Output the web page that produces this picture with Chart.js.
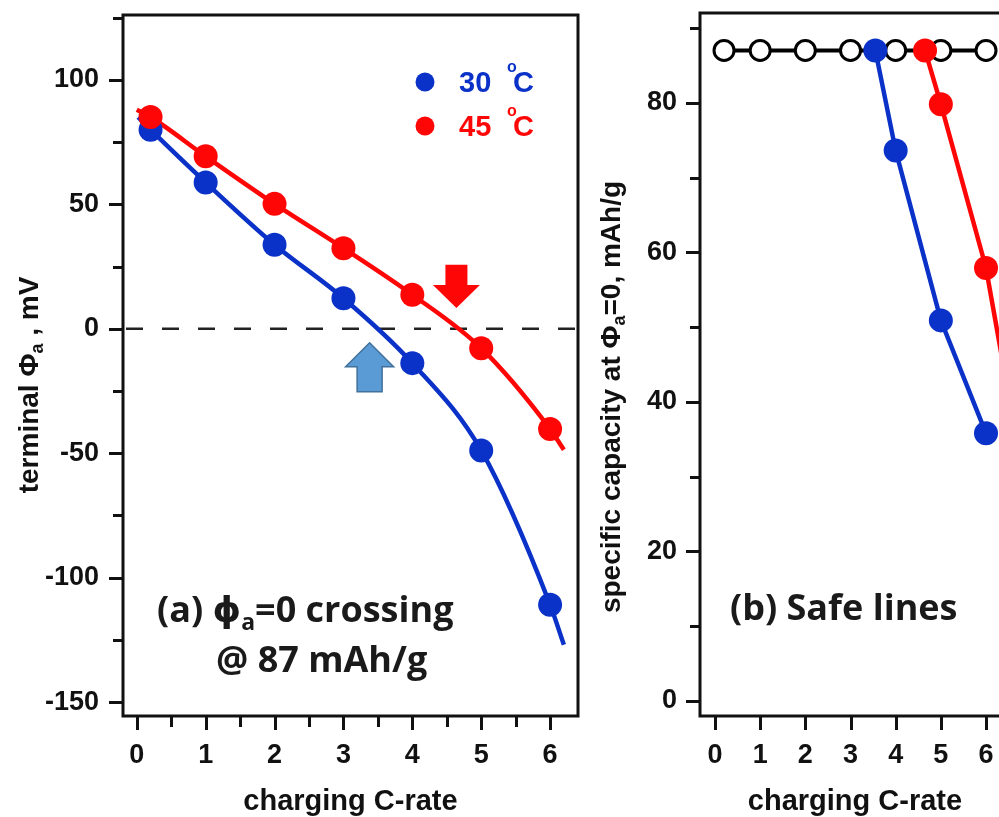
<!DOCTYPE html>
<html>
<head>
<meta charset="utf-8">
<script src="https://cdn.jsdelivr.net/npm/chart.js@4.4.1/dist/chart.umd.min.js"></script>
<style>
  html, body { margin: 0; padding: 0; background: #fff; overflow: hidden; }
  #wrapA { position: absolute; left: 0; top: 0; width: 590px; height: 817px; }
  #wrapB { position: absolute; left: 590px; top: 0; width: 440px; height: 817px; }
</style>
</head>
<body>
<div id="wrapA"><canvas id="chartA"></canvas></div>
<div id="wrapB"><canvas id="chartB"></canvas></div>
<script>
// (a) terminal anode potential vs charging rate
const rateA = [0.2, 1, 2, 3, 4, 5, 6];
const phi30 = [80.0, 58.8, 33.8, 12.3, -13.8, -48.9, -110.9];
const phi45 = [85.1, 69.3, 50.2, 32.4, 13.7, -7.8, -40.3];
// where the fitted curves start and stop: [C-rate, mV]
const fit30Ends = [[0.02, 85], [6.2, -127]];
const fit45Ends = [[0.0, 88], [6.2, -48.6]];
// zero-crossing arrows: [C-rate, tail mV, tip mV]
const arrow45 = [4.64, 25.7, 8.4];
const arrow30 = [3.38, -25.3, -5.6];

// (b) capacity reached when phi_a hits 0
const rateSafe = [0.2, 1, 2, 3, 4, 5, 6];
const capSafe = [87, 87, 87, 87, 87, 87, 87];
const rate30 = [3.55, 4, 5, 6];
const cap30 = [87, 73.6, 50.9, 35.8];
const rate45 = [4.65, 5, 6, 7];
const cap45 = [87, 79.8, 57.9, 24];

const legendLabels = ['30', '45'];

const ARIAL = "'Liberation Sans', Arial, Helvetica, sans-serif";
const NOTE = "'Open Sans', 'DejaVu Sans', sans-serif";
const BLUE = '#0b32c8';
const RED = '#ff0606';
const INK = '#111111';
const tickFont = { family: ARIAL, size: 27, weight: 'bold' };

function pts(xs, ys) {
  return xs.map((x, i) => ({ x: x, y: ys[i] }));
}

function withEnds(ends, xs, ys) {
  return [{ x: ends[0][0], y: ends[0][1] }].concat(pts(xs, ys), [{ x: ends[1][0], y: ends[1][1] }]);
}

// draws a row of text pieces, each with its own font and baseline shift
function drawRuns(ctx, list, x, y, align) {
  let total = 0;
  list.forEach(r => {
    ctx.font = r.font;
    r.w = ctx.measureText(r.text).width;
    total += r.w;
  });
  let cx = align === 'center' ? x - total / 2 : x;
  list.forEach(r => {
    ctx.font = r.font;
    ctx.fillText(r.text, cx + (r.dx || 0), y + (r.dy || 0));
    cx += r.w + (r.dx || 0);
  });
}

function drawFrame(chart) {
  const { ctx, chartArea: a } = chart;
  ctx.save();
  ctx.strokeStyle = INK;
  ctx.lineWidth = 3;
  ctx.strokeRect(a.left, a.top, a.right - a.left, a.bottom - a.top);
  ctx.restore();
}

// outward tick marks, shorter where the tick has no label
function drawTickMarks(chart) {
  const { ctx, chartArea: a } = chart;
  const xs = chart.scales.x, ys = chart.scales.y;
  ctx.save();
  ctx.strokeStyle = INK;
  ctx.lineWidth = 3;
  ctx.beginPath();
  ys.ticks.forEach(t => {
    const p = Math.round(ys.getPixelForValue(t.value)) + 0.5;
    const len = t.label ? 14 : 10;
    ctx.moveTo(a.left - len, p);
    ctx.lineTo(a.left, p);
  });
  xs.ticks.forEach(t => {
    const p = Math.round(xs.getPixelForValue(t.value)) + 0.5;
    const len = t.label ? 14 : 11;
    ctx.moveTo(p, a.bottom);
    ctx.lineTo(p, a.bottom + len);
  });
  ctx.stroke();
  ctx.restore();
}

function drawYTitle(chart, list, baseX, centerY) {
  const ctx = chart.ctx;
  ctx.save();
  ctx.fillStyle = INK;
  ctx.textBaseline = 'alphabetic';
  ctx.translate(baseX, centerY);
  ctx.rotate(-Math.PI / 2);
  drawRuns(ctx, list, 0, 0, 'center');
  ctx.restore();
}

function drawXTitle(chart, text, baseY) {
  const { ctx, chartArea: a } = chart;
  ctx.save();
  ctx.fillStyle = INK;
  ctx.textBaseline = 'alphabetic';
  ctx.textAlign = 'left';
  drawRuns(ctx, [{ text: text, font: `bold 29px ${ARIAL}` }], (a.left + a.right) / 2, baseY, 'center');
  ctx.restore();
}

function blockArrow(ctx, x, yTail, yTip, stemHalf, headHalf, headLen) {
  const dir = yTip > yTail ? 1 : -1;
  const yNeck = yTip - dir * headLen;
  ctx.beginPath();
  ctx.moveTo(x - stemHalf, yTail);
  ctx.lineTo(x + stemHalf, yTail);
  ctx.lineTo(x + stemHalf, yNeck);
  ctx.lineTo(x + headHalf, yNeck);
  ctx.lineTo(x, yTip);
  ctx.lineTo(x - headHalf, yNeck);
  ctx.lineTo(x - stemHalf, yNeck);
  ctx.closePath();
}

function fixAxis(size, vertical) {
  return function (s) {
    if (vertical) s.width = size; else s.height = size;
    s.paddingTop = 0; s.paddingBottom = 0; s.paddingLeft = 0; s.paddingRight = 0;
  };
}

const common = {
  type: 'scatter',
  options: {
    responsive: true,
    maintainAspectRatio: false,
    devicePixelRatio: 1,
    animation: false,
    events: [],
    plugins: { legend: { display: false }, tooltip: { enabled: false } }
  }
};

// ---------- (a) ----------
const panelA = {
  id: 'panelA',
  beforeDatasetsDraw(chart) {
    const { ctx, chartArea: a, scales: { y } } = chart;
    const p = y.getPixelForValue(0);
    ctx.save();
    ctx.strokeStyle = '#222';
    ctx.lineWidth = 2.5;
    ctx.setLineDash([17, 19]);
    ctx.beginPath();
    ctx.moveTo(a.left + 3, p);
    ctx.lineTo(a.right, p);
    ctx.stroke();
    ctx.restore();
  },
  afterDatasetsDraw(chart) {
    const { ctx, chartArea: a, scales: { x, y } } = chart;
    drawFrame(chart);
    drawTickMarks(chart);

    // crossing arrows
    ctx.save();
    ctx.fillStyle = RED;
    blockArrow(ctx, x.getPixelForValue(arrow45[0]), y.getPixelForValue(arrow45[1]),
      y.getPixelForValue(arrow45[2]), 11, 23.5, 23);
    ctx.fill();
    ctx.fillStyle = '#5b9bd5';
    ctx.strokeStyle = '#41719c';
    ctx.lineWidth = 1.5;
    blockArrow(ctx, x.getPixelForValue(arrow30[0]), y.getPixelForValue(arrow30[1]),
      y.getPixelForValue(arrow30[2]), 12.5, 24, 24);
    ctx.fill();
    ctx.stroke();
    ctx.restore();

    // legend
    const colors = [BLUE, RED];
    ctx.save();
    ctx.textBaseline = 'alphabetic';
    legendLabels.forEach((lab, i) => {
      const cy = a.top + 67 + i * 44;
      const cx = a.left + 302;
      ctx.fillStyle = colors[i];
      ctx.beginPath();
      ctx.arc(cx, cy, 9.5, 0, Math.PI * 2);
      ctx.fill();
      ctx.font = `bold 29px ${ARIAL}`;
      ctx.fillText(lab, cx + 34, cy + 10);
      ctx.font = `bold 16px ${ARIAL}`;
      ctx.fillText('o', cx + 82, cy - 10);
      ctx.font = `bold 29px ${ARIAL}`;
      ctx.fillText('C', cx + 88, cy + 10);
    });
    ctx.restore();

    // panel note
    ctx.save();
    ctx.fillStyle = '#1a1a1a';
    ctx.textBaseline = 'alphabetic';
    drawRuns(ctx, [
      { text: '(a) ', font: `bold 36px ${NOTE}` },
      { text: 'ϕ', font: `bold 36px ${NOTE}` },
      { text: 'a', font: `bold 23px ${NOTE}`, dy: 8 },
      { text: '=0 crossing', font: `bold 36px ${NOTE}` }
    ], a.left + 34, a.bottom - 94, 'left');
    drawRuns(ctx, [{ text: '@ 87 mAh/g', font: `bold 36px ${NOTE}` }], a.left + 93, a.bottom - 44, 'left');
    ctx.restore();

    drawYTitle(chart, [
      { text: 'terminal Φ', font: `bold 28px ${ARIAL}` },
      { text: 'a', font: `bold 18px ${ARIAL}`, dy: 5 },
      { text: ' , mV', font: `bold 28px ${ARIAL}` }
    ], 38, 385);
    drawXTitle(chart, 'charging C-rate', 810);
  }
};

new Chart(document.getElementById('chartA'), {
  type: common.type,
  data: {
    datasets: [
      { data: pts(rateA, phi45), backgroundColor: RED, borderColor: RED, pointRadius: 12, pointBorderWidth: 0, showLine: false, order: 1 },
      { data: pts(rateA, phi30), backgroundColor: BLUE, borderColor: BLUE, pointRadius: 12, pointBorderWidth: 0, showLine: false, order: 2 },
      { data: withEnds(fit45Ends, rateA, phi45), borderColor: RED, borderWidth: 4.5, pointRadius: 0, showLine: true, cubicInterpolationMode: 'monotone', order: 3 },
      { data: withEnds(fit30Ends, rateA, phi30), borderColor: BLUE, borderWidth: 4.5, pointRadius: 0, showLine: true, cubicInterpolationMode: 'monotone', order: 4 }
    ]
  },
  options: Object.assign({}, common.options, {
    layout: { padding: { left: 0, top: 15, right: 10, bottom: 0 } },
    scales: {
      x: {
        type: 'linear', min: -0.2, max: 6.405,
        grid: { display: false, drawTicks: false }, border: { display: false },
        ticks: { stepSize: 0.5, includeBounds: false, autoSkip: false, maxRotation: 0, padding: 23, color: INK, font: tickFont,
          callback: v => Number.isInteger(v) ? String(v) : '' },
        afterFit: fixAxis(101, false)
      },
      y: {
        type: 'linear', min: -155.6, max: 126.1,
        grid: { display: false, drawTicks: false }, border: { display: false },
        ticks: { stepSize: 25, includeBounds: false, autoSkip: false, padding: 24, color: INK, font: tickFont,
          callback: v => v % 50 === 0 ? String(v) : '' },
        afterFit: fixAxis(123, true)
      }
    }
  }),
  plugins: [panelA]
});

// ---------- (b) ----------
const panelB = {
  id: 'panelB',
  afterDatasetsDraw(chart) {
    const { ctx, chartArea: a } = chart;
    drawFrame(chart);
    drawTickMarks(chart);
    ctx.save();
    ctx.fillStyle = '#1a1a1a';
    ctx.textBaseline = 'alphabetic';
    drawRuns(ctx, [{ text: '(b) Safe lines', font: `bold 36px ${NOTE}` }], a.left + 30, a.bottom - 96, 'left');
    ctx.restore();
    drawYTitle(chart, [
      { text: 'specific capacity at Φ', font: `bold 28px ${ARIAL}` },
      { text: 'a', font: `bold 18px ${ARIAL}`, dy: 5 },
      { text: '=0, mAh/g', font: `bold 28px ${ARIAL}` }
    ], 30, 397);
    drawXTitle(chart, 'charging C-rate', 810);
  }
};

new Chart(document.getElementById('chartB'), {
  type: common.type,
  data: {
    datasets: [
      { data: pts(rate45, cap45), backgroundColor: RED, borderColor: RED, borderWidth: 4.5, pointRadius: 12, pointBorderWidth: 0, showLine: true, order: 1 },
      { data: pts(rate30, cap30), backgroundColor: BLUE, borderColor: BLUE, borderWidth: 4.5, pointRadius: 12, pointBorderWidth: 0, showLine: true, order: 2 },
      { data: pts(rateSafe, capSafe), backgroundColor: '#ffffff', borderColor: '#000000', borderWidth: 4, pointRadius: 10, pointBorderWidth: 3, showLine: true, order: 3 }
    ]
  },
  options: Object.assign({}, common.options, {
    layout: { padding: { left: 0, top: 12, right: 20, bottom: 0 } },
    scales: {
      x: {
        type: 'linear', min: -0.332, max: 6.531,
        grid: { display: false, drawTicks: false }, border: { display: false },
        ticks: { stepSize: 1, includeBounds: false, autoSkip: false, maxRotation: 0, padding: 23, color: INK, font: tickFont },
        afterFit: fixAxis(101, false)
      },
      y: {
        type: 'linear', min: -2.0, max: 92.0,
        grid: { display: false, drawTicks: false }, border: { display: false },
        ticks: { stepSize: 10, includeBounds: false, autoSkip: false, padding: 23, color: INK, font: tickFont,
          callback: v => v % 20 === 0 ? String(v) : '' },
        afterFit: fixAxis(110, true)
      }
    }
  }),
  plugins: [panelB]
});
</script>
</body>
</html>
